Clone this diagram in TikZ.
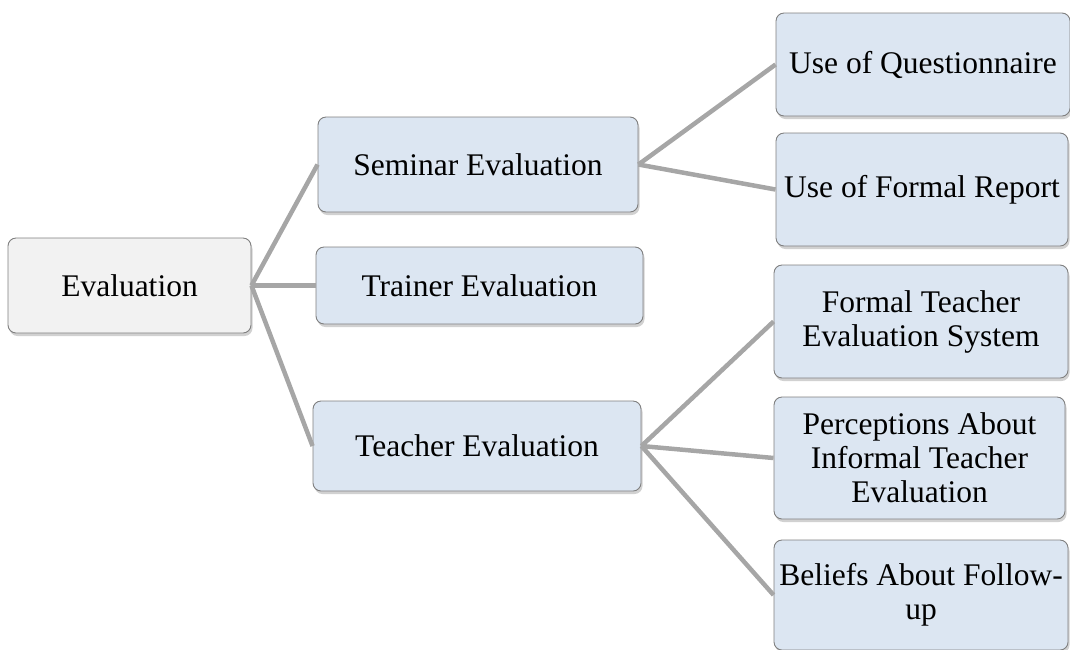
\documentclass[tikz,border=0pt]{standalone}
\usepackage{fontspec}
\setmainfont{Liberation Serif}
\usetikzlibrary{shadows}
\definecolor{boxblue}{HTML}{DCE6F2}
\definecolor{boxgray}{HTML}{F2F2F2}
\definecolor{edgegray}{HTML}{7F7F7F}
\definecolor{linegray}{HTML}{A6A6A6}
\tikzset{
  box/.style={draw=edgegray, line width=0.9pt, rounded corners=8pt, fill=boxblue,
    align=center, inner sep=0pt, font=\fontsize{31.5}{34}\selectfont,
    drop shadow={shadow xshift=1.5pt, shadow yshift=-3pt, opacity=0.3, fill=black!60}},
  rootbox/.style={box, fill=boxgray},
  conn/.style={draw=linegray, line width=4.5pt}
}
\begin{document}
\begin{tikzpicture}[x=1pt, y=-1pt]
\useasboundingbox (0,0) rectangle (1070,649);
\node[rootbox, minimum width=243pt, minimum height=95pt] (ev) at (129.5,285.5) {Evaluation};
\node[box, minimum width=320pt, minimum height=95pt] (sem) at (478,164.5) {Seminar Evaluation};
\node[box, minimum width=327pt, minimum height=77pt] (tra) at (479.5,285.5) {Trainer Evaluation};
\node[box, minimum width=328pt, minimum height=90pt] (tea) at (477,446) {Teacher Evaluation};
\node[box, minimum width=294pt, minimum height=103pt] (q) at (923,64.5) {Use of Questionnaire};
\node[box, minimum width=292pt, minimum height=113pt] (fr) at (922,189.5) {Use of Formal Report};
\node[box, minimum width=294pt, minimum height=113pt] (ft) at (921,321.5) {Formal Teacher\\Evaluation System};
\node[box, minimum width=291pt, minimum height=122pt] (pa) at (919.5,458) {Perceptions About\\Informal Teacher\\Evaluation};
\node[box, minimum width=294pt, minimum height=110pt] (ba) at (921,595) {Beliefs About Follow-\\up};
\draw[conn] (ev.east) -- (sem.west);
\draw[conn] (ev.east) -- (tra.west);
\draw[conn] (ev.east) -- (tea.west);
\draw[conn] (sem.east) -- (q.west);
\draw[conn] (sem.east) -- (fr.west);
\draw[conn] (tea.east) -- (ft.west);
\draw[conn] (tea.east) -- (pa.west);
\draw[conn] (tea.east) -- (ba.west);
\end{tikzpicture}
\end{document}
